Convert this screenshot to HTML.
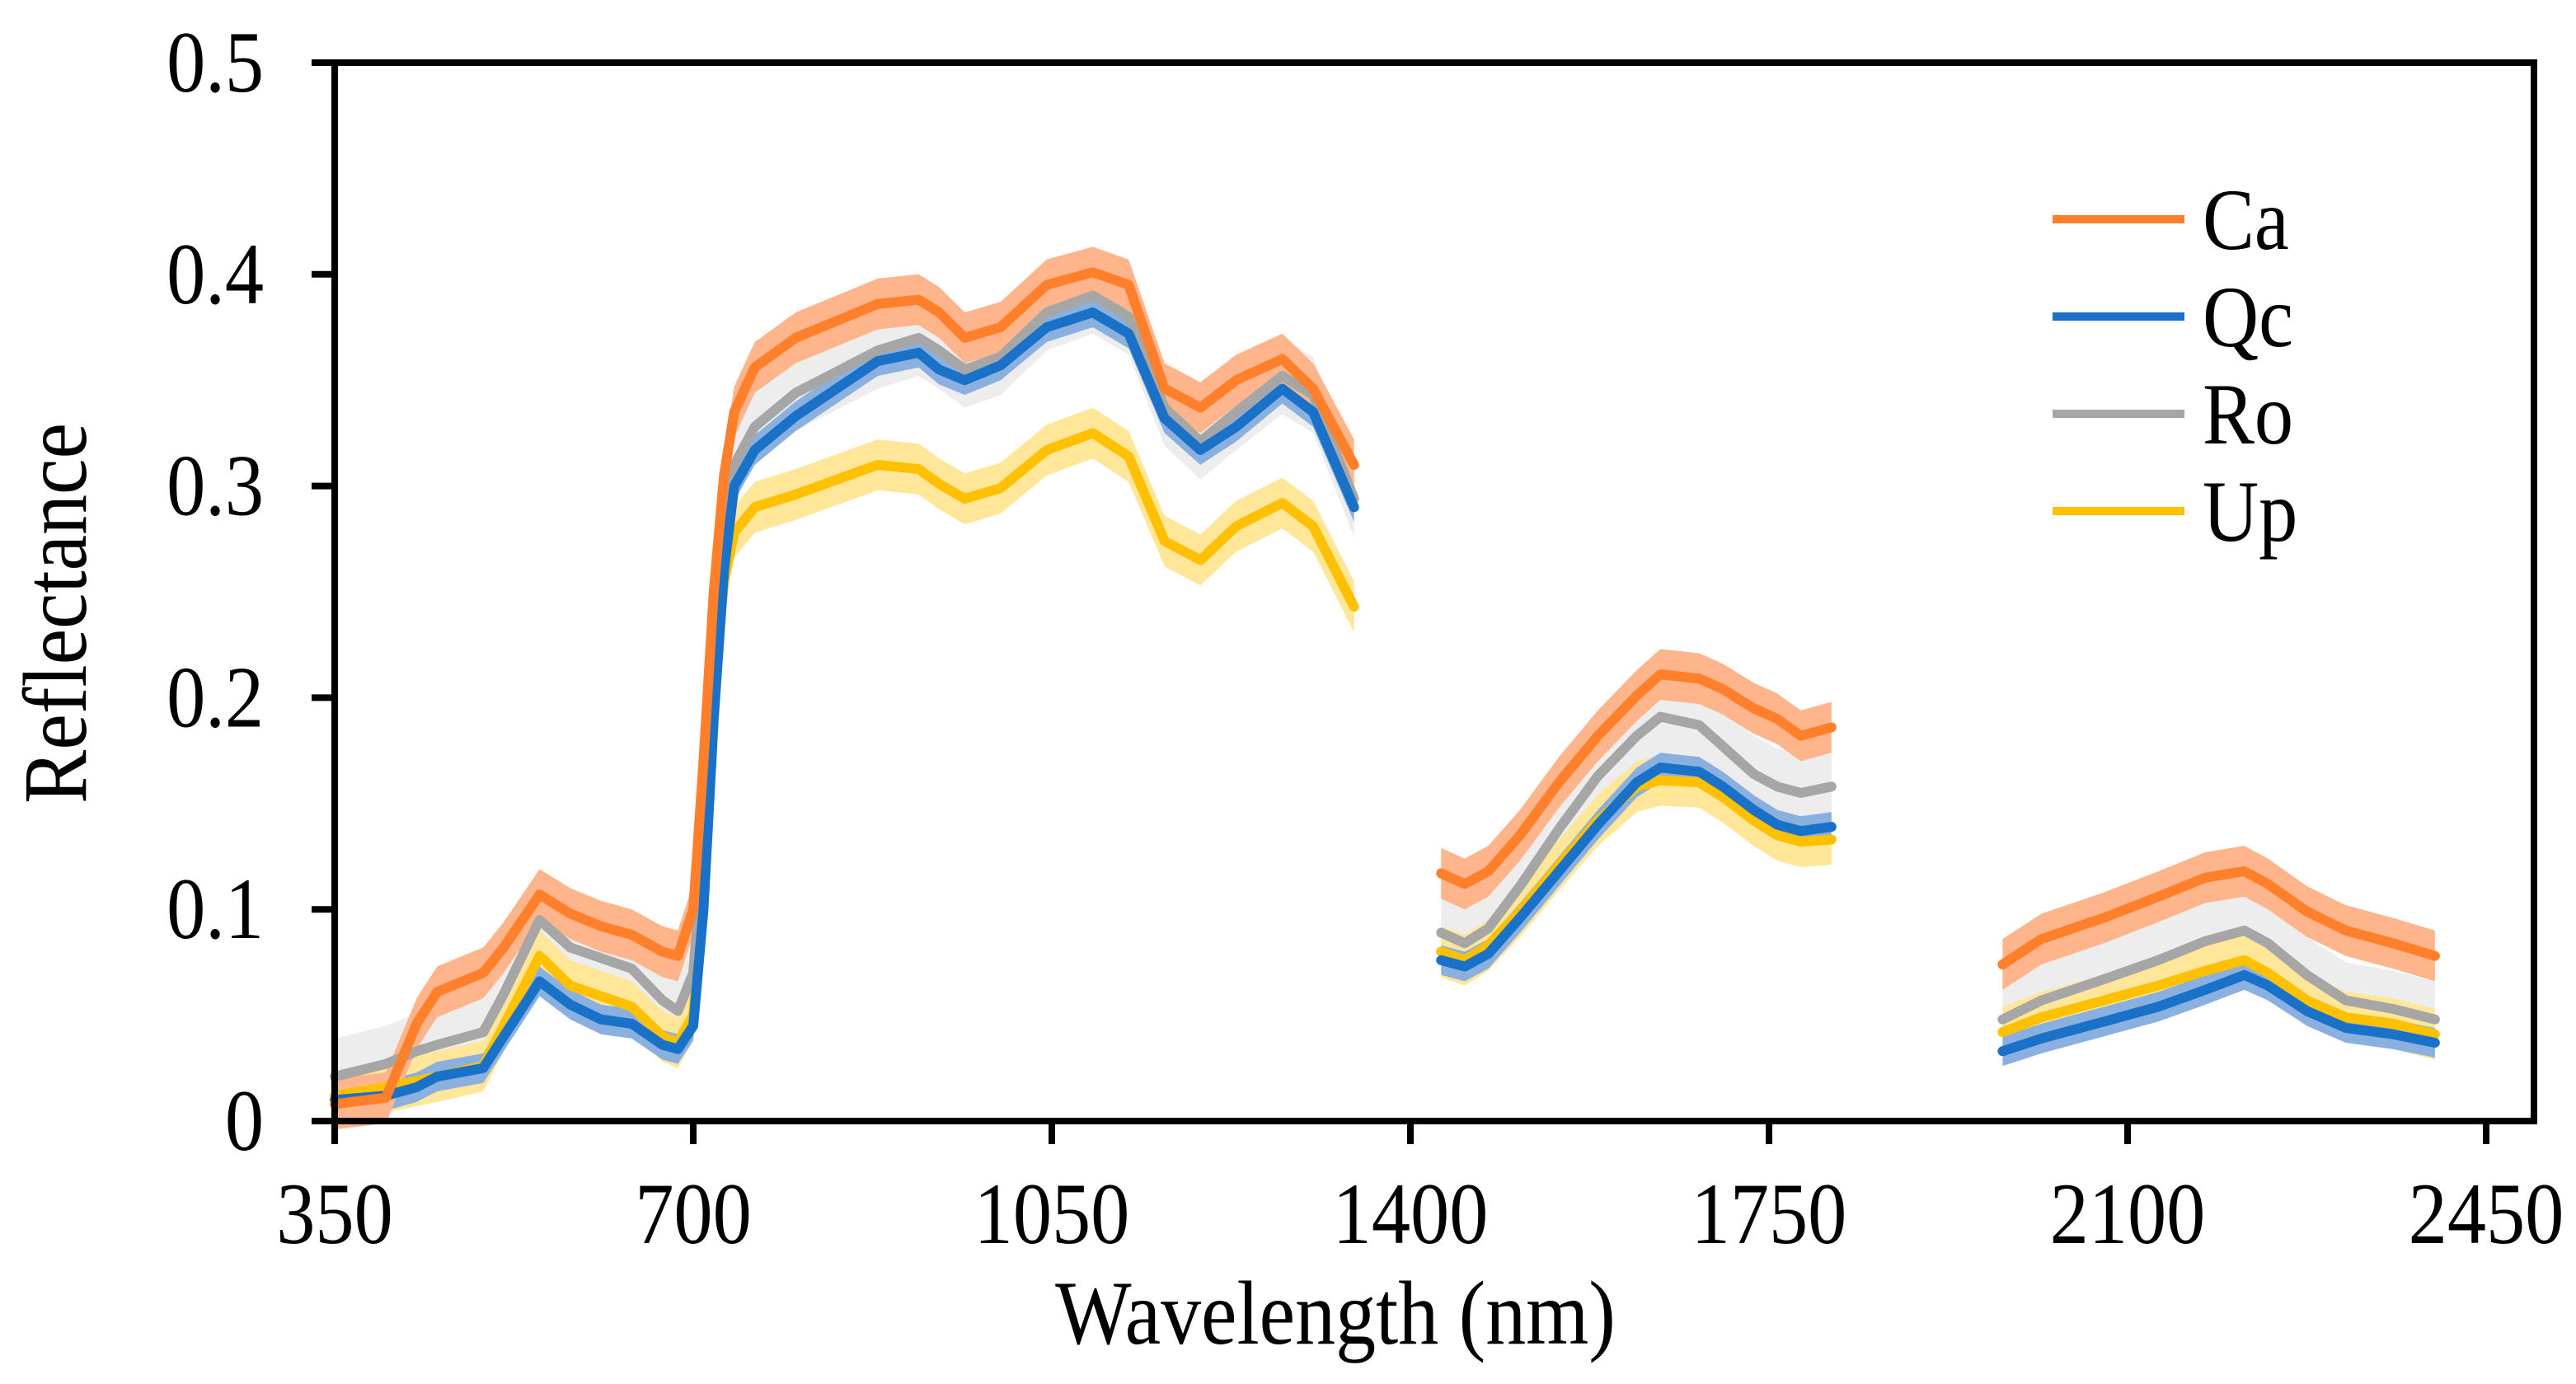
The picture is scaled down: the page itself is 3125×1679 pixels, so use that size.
<!DOCTYPE html>
<html><head><meta charset="utf-8"><style>
html,body{margin:0;padding:0;background:#fff}
svg{display:block}
text{font-family:"Liberation Serif",serif;fill:#000}
</style></head><body>
<svg id="chart" width="3125" height="1679" viewBox="0 0 3125 1679" xmlns="http://www.w3.org/2000/svg">
<g id="bands"></g>
<g id="lines"></g>
<g id="axes"></g>
<g id="legend"></g>
</svg>
<script>
const xTicks = [350, 700, 1050, 1400, 1750, 2100, 2450];
const yTicks = [0, 0.1, 0.2, 0.3, 0.4, 0.5];
const yTickLabels = ["0", "0.1", "0.2", "0.3", "0.4", "0.5"];
const seriesNames = ["Ca", "Qc", "Ro", "Up"];
const wl1 = [350,400,430,450,495,515,550,580,610,640,670,685,700,710,720,730,740,760,800,880,920,940,965,1000,1045,1090,1125,1160,1195,1230,1275,1305,1345];
const wl2 = [1430,1453,1476,1507,1545,1583,1621,1644,1682,1705,1735,1758,1781,1811];
const wl3 = [1978,2016,2077,2130,2176,2214,2237,2275,2313,2359,2400];
const ca1 = [0.008,0.011,0.046,0.061,0.070,0.082,0.107,0.098,0.092,0.088,0.080,0.078,0.100,0.170,0.250,0.305,0.335,0.356,0.370,0.386,0.388,0.382,0.370,0.375,0.395,0.401,0.395,0.346,0.337,0.350,0.360,0.346,0.310];
const qc1 = [0.010,0.012,0.016,0.021,0.025,0.040,0.066,0.055,0.048,0.046,0.036,0.034,0.045,0.100,0.190,0.260,0.300,0.317,0.333,0.359,0.363,0.355,0.350,0.357,0.375,0.382,0.372,0.332,0.317,0.328,0.346,0.335,0.290];
const ro1 = [0.021,0.027,0.033,0.036,0.042,0.060,0.095,0.082,0.077,0.072,0.057,0.052,0.070,0.130,0.220,0.285,0.310,0.328,0.344,0.364,0.370,0.364,0.355,0.361,0.382,0.390,0.380,0.337,0.321,0.335,0.352,0.343,0.294];
const up1 = [0.012,0.016,0.019,0.021,0.026,0.045,0.078,0.064,0.059,0.054,0.040,0.037,0.050,0.110,0.200,0.255,0.278,0.290,0.296,0.310,0.308,0.301,0.294,0.299,0.317,0.325,0.314,0.274,0.265,0.281,0.292,0.281,0.243];
const ca2 = [0.117,0.112,0.118,0.135,0.160,0.182,0.201,0.211,0.209,0.204,0.195,0.190,0.182,0.186];
const qc2 = [0.076,0.073,0.079,0.096,0.118,0.140,0.160,0.167,0.165,0.158,0.147,0.140,0.137,0.139];
const ro2 = [0.089,0.084,0.091,0.111,0.138,0.163,0.182,0.191,0.187,0.177,0.164,0.158,0.155,0.158];
const up2 = [0.080,0.076,0.083,0.099,0.121,0.142,0.158,0.161,0.160,0.153,0.142,0.135,0.132,0.133];
const ca3 = [0.074,0.086,0.096,0.106,0.115,0.118,0.112,0.099,0.090,0.084,0.078];
const qc3 = [0.033,0.039,0.047,0.054,0.062,0.069,0.064,0.052,0.044,0.041,0.037];
const ro3 = [0.048,0.057,0.067,0.076,0.085,0.090,0.084,0.069,0.057,0.053,0.048];
const up3 = [0.042,0.049,0.057,0.064,0.071,0.076,0.070,0.057,0.049,0.046,0.041];
const bandHalf = [0.012, 0.007, 0.018, 0.012];

const NS = "http://www.w3.org/2000/svg";
const L = 406, R = 3016, T = 76, B = 1360, RIGHT = 3074;
const xScale = w => L + (w - 350) / 2100 * (R - L);
const yScale = v => B - v / 0.5 * (B - T);
const lineColors = ["#FF7F2A", "#1A72C8", "#A6A6A6", "#FFC000"];
const bandColors = ["#FFB58C", "#8AB0E0", "#EDEDED", "#FFE699"];
const segs = [wl1, wl2, wl3];
const data = [[ca1, ca2, ca3], [qc1, qc2, qc3], [ro1, ro2, ro3], [up1, up2, up3]];

function mk(tag, attrs, parent) {
  const e = document.createElementNS(NS, tag);
  for (const k in attrs) e.setAttribute(k, attrs[k]);
  parent.appendChild(e);
  return e;
}
const gB = document.getElementById("bands"), gL = document.getElementById("lines");
const gA = document.getElementById("axes"), gLeg = document.getElementById("legend");

[2, 3, 1, 0].forEach(si => {
  segs.forEach((wl, k) => {
    const vals = data[si][k], h = bandHalf[si];
    const up = wl.map((w, i) => xScale(w) + "," + yScale(vals[i] + h));
    const lo = wl.map((w, i) => xScale(w) + "," + yScale(vals[i] - h)).reverse();
    const p = mk("polygon", { points: up.concat(lo).join(" "), fill: bandColors[si] }, gB);
    
    
  });
});
[3, 2, 1, 0].forEach(si => {
  segs.forEach((wl, k) => {
    const vals = data[si][k];
    const pts = wl.map((w, i) => xScale(w) + "," + yScale(vals[i])).join(" ");
    const p = mk("polyline", { points: pts, fill: "none", stroke: lineColors[si], "stroke-width": 12, "stroke-linejoin": "round", "stroke-linecap": "round" }, gL);
    
    
  });
});

function txt(x, y, s, anchor, parent, fs) {
  const t = mk("text", { x: 0, y: 0, "font-size": fs || 106, "text-anchor": anchor, transform: "translate(" + x + "," + y + ") scale(0.89,1)" }, parent);
  t.textContent = s;
  return t;
}

const frame = mk("rect", { x: L, y: T, width: RIGHT - L, height: B - T, fill: "none", stroke: "#000", "stroke-width": 8 }, gA);


xTicks.forEach(t => {
  const x = xScale(t);
  const tk = mk("line", { x1: x, y1: B, x2: x, y2: B + 28, stroke: "#000", "stroke-width": 8 }, gA);
  
  
  const tx = txt(x, 1508, String(t), "middle", gA);
  
  
});
yTicks.forEach((t, i) => {
  const y = yScale(t);
  const tk = mk("line", { x1: L - 28, y1: y, x2: L, y2: y, stroke: "#000", "stroke-width": 8 }, gA);
  
  
  const tx = txt(L - 86, y + 35, yTickLabels[i], "end", gA);
  
  
});
const xt = txt(1620, 1630, "Wavelength (nm)", "middle", gA, 110);


const yt = mk("text", { x: 0, y: 0, "font-size": 110, "text-anchor": "middle", transform: "translate(104,744) rotate(-90) scale(0.89,1)" }, gA);
yt.textContent = "Reflectance";



seriesNames.forEach((n, i) => {
  const y = 266 + i * 118;
  const ln = mk("line", { x1: 2490, y1: y, x2: 2650, y2: y, stroke: lineColors[i], "stroke-width": 10 }, gLeg);
  
  
  const tx = txt(2672, y + 36, n, "start", gLeg);
  
  
});
</script>
</body></html>
